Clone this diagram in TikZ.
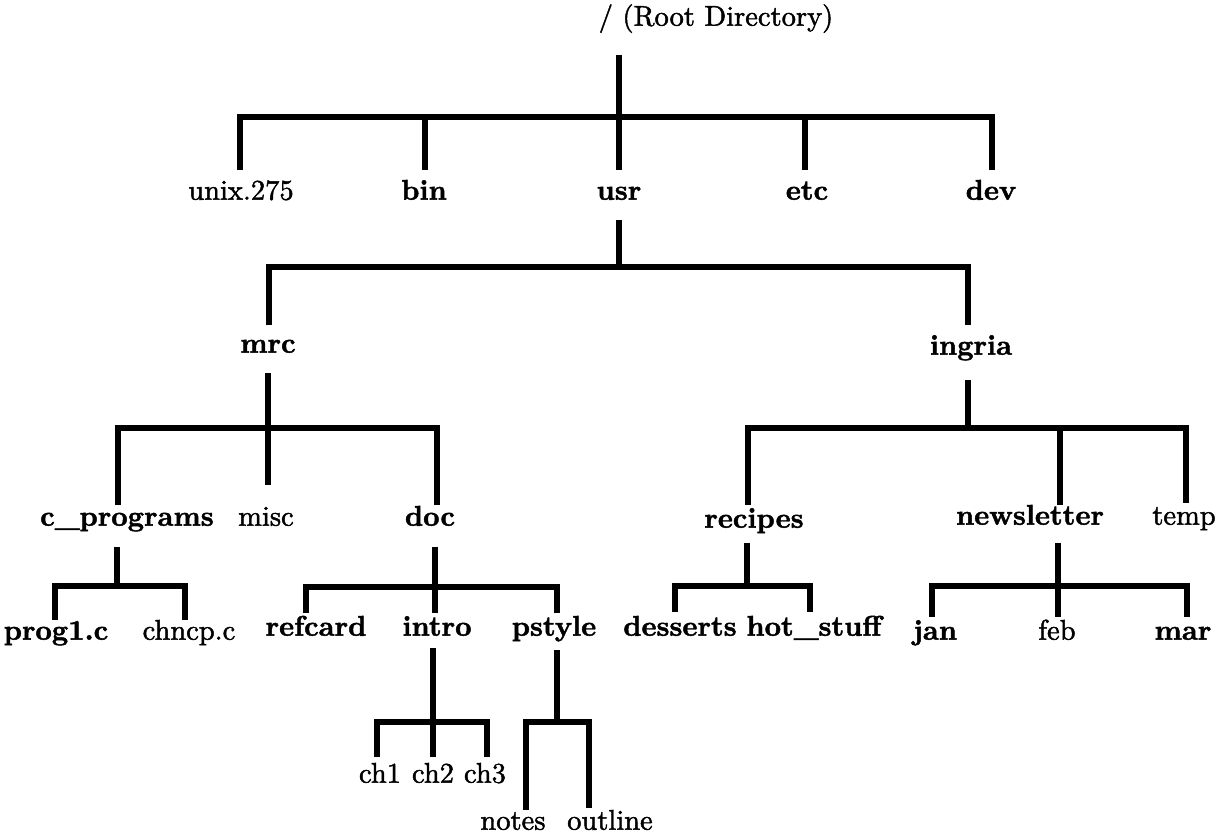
\documentclass[tikz,border=0pt]{standalone}
\usepackage{fontspec}
% 10pt design sizes, emboldened, for the heavy typewriter-era look
\newfontfamily\lblrm{lmroman10-regular}[Extension=.otf,FakeBold=1.6]
\newfontfamily\lblbf{lmroman10-bold}[Extension=.otf,FakeBold=1.6]
\begin{document}
\begin{tikzpicture}[x=1pt,y=-1pt,
  every node/.style={inner sep=0pt,outer sep=0pt,text height=1.5ex,text depth=.25ex},
  dir/.style={font=\fontsize{28.5}{34}\lblbf},
  file/.style={font=\fontsize{28.5}{34}\lblrm},
  link/.style={line width=5.5pt,line join=miter,line cap=butt}]
\useasboundingbox[fill=white] (0,0) rectangle (1222,838);

% ---- labels ----
\node[file] (root) at (716,23) {/ (Root Directory)};
\node[file] (unix) at (241,197) {unix.275};
\node[dir]  (bin)  at (424,197) {bin};
\node[dir]  (usr)  at (619,197) {usr};
\node[dir]  (etc)  at (807,197) {etc};
\node[dir]  (dev)  at (991,197) {dev};

\node[dir] (mrc)    at (268,350) {mrc};
\node[dir] (ingria) at (971,352) {ingria};

\node[dir]  (cprog) at (127,523) {c\_programs};
\node[file] (misc)  at (266,523) {misc};
\node[dir]  (doc)   at (430,523) {doc};
\node[dir]  (recipes)    at (754,525) {recipes};
\node[dir]  (newsletter) at (1030,522) {newsletter};
\node[file] (temp)       at (1184,522) {temp};

\node[dir]  (prog)    at (56,637)  {prog1.c};
\node[file] (chncp)   at (189,637) {chncp.c};
\node[dir]  (refcard) at (316,633) {refcard};
\node[dir]  (intro)   at (437,633) {intro};
\node[dir]  (pstyle)  at (554,633) {pstyle};
\node[dir]  (desserts) at (680,633) {desserts};
\node[dir]  (hot)      at (814,633) {hot\_stuff};
\node[dir]  (jan) at (935,637)  {jan};
\node[file] (feb) at (1057,637) {feb};
\node[dir]  (mar) at (1183,637) {mar};

\node[file] (ch1) at (380,780) {ch1};
\node[file] (ch2) at (433,780) {ch2};
\node[file] (ch3) at (485,780) {ch3};

\node[file] (notes)   at (513,827) {notes};
\node[file] (outline) at (610,827) {outline};

% ---- stem tops (below a parent) and drop ends (above a child) ----
\coordinate (rootS) at (619,55);   \coordinate (b1) at (619,117);
\coordinate (unixT) at (240,170);  \coordinate (binT) at (425,170);
\coordinate (usrT)  at (619,170);  \coordinate (etcT) at (805,170);
\coordinate (devT)  at (992,170);

\coordinate (usrS) at (619,220);   \coordinate (b2) at (619,267);
\coordinate (mrcT) at (269,325);   \coordinate (ingriaT) at (968,325);

\coordinate (mrcS) at (268,373);   \coordinate (b3) at (268,428);
\coordinate (cprogT) at (118,505); \coordinate (miscT) at (268,485);
\coordinate (docT) at (437,505);

\coordinate (ingriaS) at (968,380); \coordinate (b4) at (968,428);
\coordinate (recipesT) at (748,505); \coordinate (newsT) at (1060,505);
\coordinate (tempT) at (1186,503);

\coordinate (cprogS) at (117,547); \coordinate (b5) at (117,586);
\coordinate (progT) at (55,620);   \coordinate (chncpT) at (185,620);

\coordinate (docS) at (435,547);   \coordinate (b6) at (435,587);
\coordinate (refcardT) at (306,613); \coordinate (introT) at (435,613);
\coordinate (pstyleT) at (557,613);

\coordinate (recipesS) at (747,543); \coordinate (b7) at (747,586);
\coordinate (dessertsT) at (675,612); \coordinate (hotT) at (810,612);

\coordinate (newsS) at (1058,543); \coordinate (b8) at (1058,586);
\coordinate (janT) at (932,617);   \coordinate (febT) at (1058,617);
\coordinate (marT) at (1187,617);

\coordinate (introS) at (433,648); \coordinate (b9) at (433,722);
\coordinate (ch1T) at (377,757);   \coordinate (ch2T) at (433,757);
\coordinate (ch3T) at (487,757);

\coordinate (pstyleS) at (557,650); \coordinate (b10) at (557,722);
\coordinate (notesT) at (526,810);  \coordinate (outlineT) at (589,808);

% ---- connectors ----
\draw[link] (rootS) -- (b1);
\draw[link] (unixT) |- (b1 -| devT) -- (devT);
\draw[link] (b1 -| binT) -- (binT);
\draw[link] (b1 -| usrT) -- (usrT);
\draw[link] (b1 -| etcT) -- (etcT);

\draw[link] (usrS) -- (b2);
\draw[link] (mrcT) |- (b2 -| ingriaT) -- (ingriaT);

\draw[link] (mrcS) -- (b3);
\draw[link] (cprogT) |- (b3 -| docT) -- (docT);
\draw[link] (b3 -| miscT) -- (miscT);

\draw[link] (ingriaS) -- (b4);
\draw[link] (recipesT) |- (b4 -| tempT) -- (tempT);
\draw[link] (b4 -| newsT) -- (newsT);

\draw[link] (cprogS) -- (b5);
\draw[link] (progT) |- (b5 -| chncpT) -- (chncpT);

\draw[link] (docS) -- (b6) -- (introT);
\draw[link] (refcardT) |- (b6 -| pstyleT) -- (pstyleT);

\draw[link] (recipesS) -- (b7);
\draw[link] (dessertsT) |- (b7 -| hotT) -- (hotT);

\draw[link] (newsS) -- (b8) -- (febT);
\draw[link] (janT) |- (b8 -| marT) -- (marT);

\draw[link] (introS) -- (b9) -- (ch2T);
\draw[link] (ch1T) |- (b9 -| ch3T) -- (ch3T);

\draw[link] (pstyleS) -- (b10);
\draw[link] (notesT) |- (b10 -| outlineT) -- (outlineT);
\end{tikzpicture}
\end{document}
